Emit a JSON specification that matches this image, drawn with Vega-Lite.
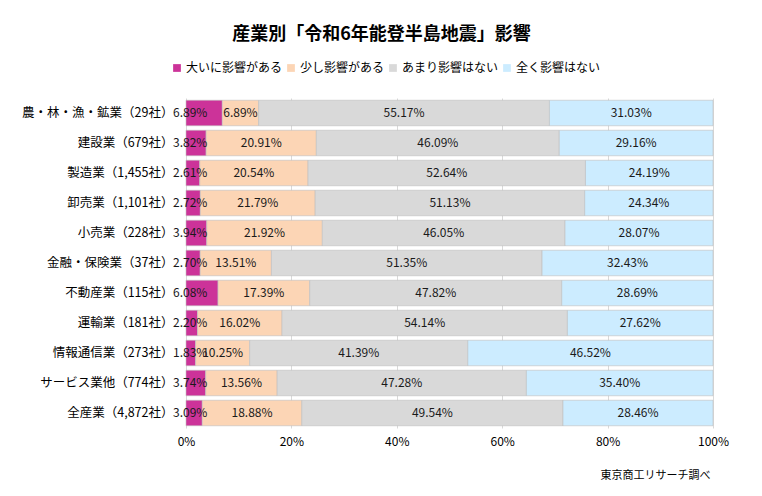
{
  "$schema": "https://vega.github.io/schema/vega-lite/v6.json",
  "width": 527,
  "height": 330,
  "autosize": {"type": "none"},
  "padding": {"left": 186, "top": 98, "right": 49, "bottom": 68},
  "background": "white",
  "config": {"view": {"stroke": null}, "font": "Noto Sans CJK JP"},
  "title": {
    "text": "産業別「令和6年能登半島地震」影響",
    "font": "Noto Sans CJK JP",
    "fontSize": 18,
    "fontWeight": "bold",
    "color": "#000000",
    "anchor": "middle",
    "frame": "group",
    "dx": -68,
    "offset": 18
  },
  "data": {
    "values": [
      {"industry": "農・林・漁・鉱業（29社）", "大いに影響がある": 6.89, "少し影響がある": 6.89, "あまり影響はない": 55.17, "全く影響はない": 31.03},
      {"industry": "建設業（679社）", "大いに影響がある": 3.82, "少し影響がある": 20.91, "あまり影響はない": 46.09, "全く影響はない": 29.16},
      {"industry": "製造業（1,455社）", "大いに影響がある": 2.61, "少し影響がある": 20.54, "あまり影響はない": 52.64, "全く影響はない": 24.19},
      {"industry": "卸売業（1,101社）", "大いに影響がある": 2.72, "少し影響がある": 21.79, "あまり影響はない": 51.13, "全く影響はない": 24.34},
      {"industry": "小売業（228社）", "大いに影響がある": 3.94, "少し影響がある": 21.92, "あまり影響はない": 46.05, "全く影響はない": 28.07},
      {"industry": "金融・保険業（37社）", "大いに影響がある": 2.70, "少し影響がある": 13.51, "あまり影響はない": 51.35, "全く影響はない": 32.43},
      {"industry": "不動産業（115社）", "大いに影響がある": 6.08, "少し影響がある": 17.39, "あまり影響はない": 47.82, "全く影響はない": 28.69},
      {"industry": "運輸業（181社）", "大いに影響がある": 2.20, "少し影響がある": 16.02, "あまり影響はない": 54.14, "全く影響はない": 27.62},
      {"industry": "情報通信業（273社）", "大いに影響がある": 1.83, "少し影響がある": 10.25, "あまり影響はない": 41.39, "全く影響はない": 46.52},
      {"industry": "サービス業他（774社）", "大いに影響がある": 3.74, "少し影響がある": 13.56, "あまり影響はない": 47.28, "全く影響はない": 35.40},
      {"industry": "全産業（4,872社）", "大いに影響がある": 3.09, "少し影響がある": 18.88, "あまり影響はない": 49.54, "全く影響はない": 28.46}
    ]
  },
  "transform": [
    {"fold": ["大いに影響がある", "少し影響がある", "あまり影響はない", "全く影響はない"], "as": ["cat", "value"]},
    {"calculate": "indexof(['大いに影響がある', '少し影響がある', 'あまり影響はない', '全く影響はない'], datum.cat)", "as": "k"},
    {"stack": "value", "groupby": ["industry"], "sort": [{"field": "k", "order": "ascending"}], "offset": "normalize", "as": ["x0", "x1"]},
    {"calculate": "(datum.x0 + datum.x1) / 2", "as": "xm"},
    {"calculate": "format(datum.value, '.2f') + '%'", "as": "label"}
  ],
  "encoding": {
    "y": {
      "field": "industry",
      "type": "nominal",
      "sort": null,
      "scale": {"paddingInner": 0.15, "paddingOuter": 0.075},
      "axis": {
        "title": null,
        "domain": false,
        "ticks": false,
        "labelFont": "Noto Sans CJK JP",
        "labelFontSize": 12.5,
        "labelColor": "#000000",
        "labelPadding": 13
      }
    }
  },
  "layer": [
    {
      "mark": {"type": "bar", "stroke": "#bfbfbf", "strokeWidth": 0.6},
      "encoding": {
        "x": {
          "field": "x0",
          "type": "quantitative",
          "scale": {"domain": [0, 1], "nice": false},
          "axis": {
            "values": [0, 0.2, 0.4, 0.6, 0.8, 1],
            "format": ".0%",
            "grid": true,
            "gridColor": "#d9d9d9",
            "domain": false,
            "ticks": false,
            "labelFlush": false,
            "labelFont": "Noto Sans CJK JP",
            "labelFontSize": 12,
            "labelColor": "#000000",
            "labelPadding": 8,
            "title": "東京商工リサーチ調べ",
            "titleFont": "Noto Sans CJK JP",
            "titleFontSize": 11,
            "titleFontWeight": "normal",
            "titleColor": "#000000",
            "titleX": 524,
            "titleY": 47,
            "titleAlign": "right",
            "titleBaseline": "middle",
            "titleAnchor": "end"
          }
        },
        "x2": {"field": "x1"},
        "color": {
          "field": "cat",
          "type": "nominal",
          "scale": {
            "domain": ["大いに影響がある", "少し影響がある", "あまり影響はない", "全く影響はない"],
            "range": ["#CC3399", "#FCD5B5", "#D9D9D9", "#CCECFF"]
          },
          "legend": {
            "title": null,
            "orient": "none",
            "direction": "horizontal",
            "legendX": -15,
            "legendY": -36,
            "symbolType": "square",
            "symbolSize": 60,
            "symbolStrokeWidth": 0,
            "labelFont": "Noto Sans CJK JP",
            "labelFontSize": 12,
            "labelColor": "#000000",
            "labelOffset": 3,
            "columnPadding": 2,
            "padding": 0
          }
        }
      }
    },
    {
      "transform": [{"filter": "datum.k == 0"}],
      "mark": {"type": "text", "font": "Noto Sans CJK JP", "fontSize": 12, "color": "#1a1a1a", "baseline": "middle", "align": "left", "dx": -13},
      "encoding": {
        "x": {"field": "x0", "type": "quantitative"},
        "text": {"field": "label", "type": "nominal"}
      }
    },
    {
      "transform": [{"filter": "datum.k > 0"}],
      "mark": {"type": "text", "font": "Noto Sans CJK JP", "fontSize": 12, "color": "#1a1a1a", "baseline": "middle", "align": "center"},
      "encoding": {
        "x": {"field": "xm", "type": "quantitative"},
        "text": {"field": "label", "type": "nominal"}
      }
    }
  ]
}
